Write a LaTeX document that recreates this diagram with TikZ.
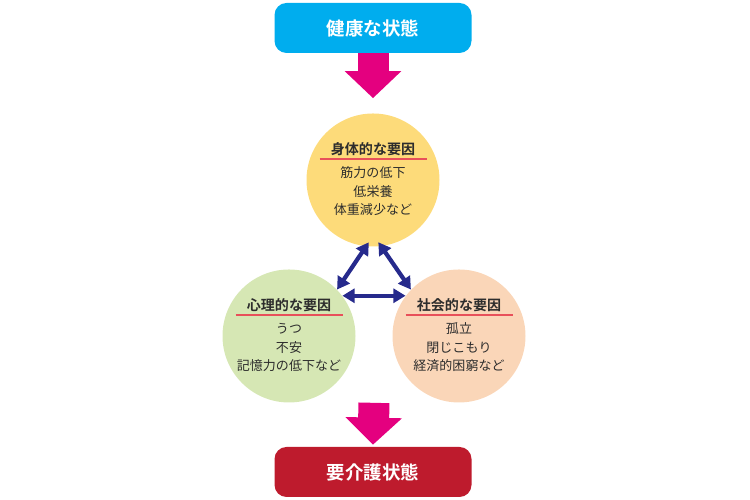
\documentclass[tikz,border=0pt]{standalone}
\usepackage{fontspec}
\setmainfont{Noto Sans CJK JP}[BoldFont={Noto Sans CJK JP Bold}]
\usepackage{tikz}
\usetikzlibrary{arrows.meta, calc}
\definecolor{boxcyan}{RGB}{0,173,238}
\definecolor{boxred}{RGB}{190,27,45}
\definecolor{flowpink}{RGB}{228,0,127}
\definecolor{linkblue}{RGB}{38,42,140}
\definecolor{bodyyellow}{RGB}{253,219,122}
\definecolor{mindgreen}{RGB}{214,231,180}
\definecolor{socialpeach}{RGB}{250,214,184}
\definecolor{rulered}{RGB}{232,80,90}
\definecolor{textgray}{RGB}{45,45,45}

\begin{document}
\begin{tikzpicture}[
    statebox/.style={rounded corners=0.24cm, minimum width=3.94cm, minimum height=1.0cm,
      text=white, font=\bfseries\fontsize{10.5}{12}\selectfont},
    factor/.style={circle, minimum size=2.66cm},
    bigarrow/.style={flowpink, line width=0.62cm, -{Triangle[length=0.54cm,width=1.1cm]}},
    link/.style={linkblue, line width=2.4pt, {Triangle[length=7pt,width=8pt]}-{Triangle[length=7pt,width=8pt]}},
    head/.style={font=\bfseries\fontsize{8}{10}\selectfont, text=textgray},
    items/.style={font=\fontsize{7.4}{10.5}\selectfont, text=textgray, align=center}
  ]
\useasboundingbox (0,0) rectangle (15,10);

% states
\node[statebox, fill=boxcyan] (healthy) at (7.46,9.44) {健康な状態};
\node[statebox, fill=boxred] (care) at (7.46,0.56) {要介護状態};

% factor circles
\node[factor, fill=bodyyellow] (body) at (7.46,6.40) {};
\node[factor, fill=mindgreen] (mind) at (5.78,3.28) {};
\node[factor, fill=socialpeach] (social) at (9.18,3.28) {};

% circle texts
\foreach \c/\t/\l in {body/身体的な要因/{筋力の低下\\低栄養\\体重減少など},
                      mind/心理的な要因/{うつ\\不安\\記憶力の低下など},
                      social/社会的な要因/{孤立\\閉じこもり\\経済的困窮など}} {
  \node[head] (\c-head) at ($(\c.center)+(0,0.62)$) {\t};
  \draw[rulered, line width=0.6pt] ($(\c.center)+(-1.07,0.42)$) -- ($(\c.center)+(1.07,0.42)$);
  \node[items] (\c-items) at ($(\c.center)+(0,-0.23)$) {\l};
}

% flow arrows
\draw[bigarrow, shorten >=0.3cm] (healthy.south) -- (body.north);
\coordinate (gap) at ($(mind.south)!0.5!(social.south)$);
\draw[bigarrow, shorten >=0.04cm] (gap) -- (care.north);

% links between factors
\draw[link, shorten >=-0.1cm] (mind.44) -- (body.264);
\draw[link, shorten >=-0.1cm] (social.136) -- (body.277);
\draw[link] (mind.37) -- (social.143);

\end{tikzpicture}
\end{document}
